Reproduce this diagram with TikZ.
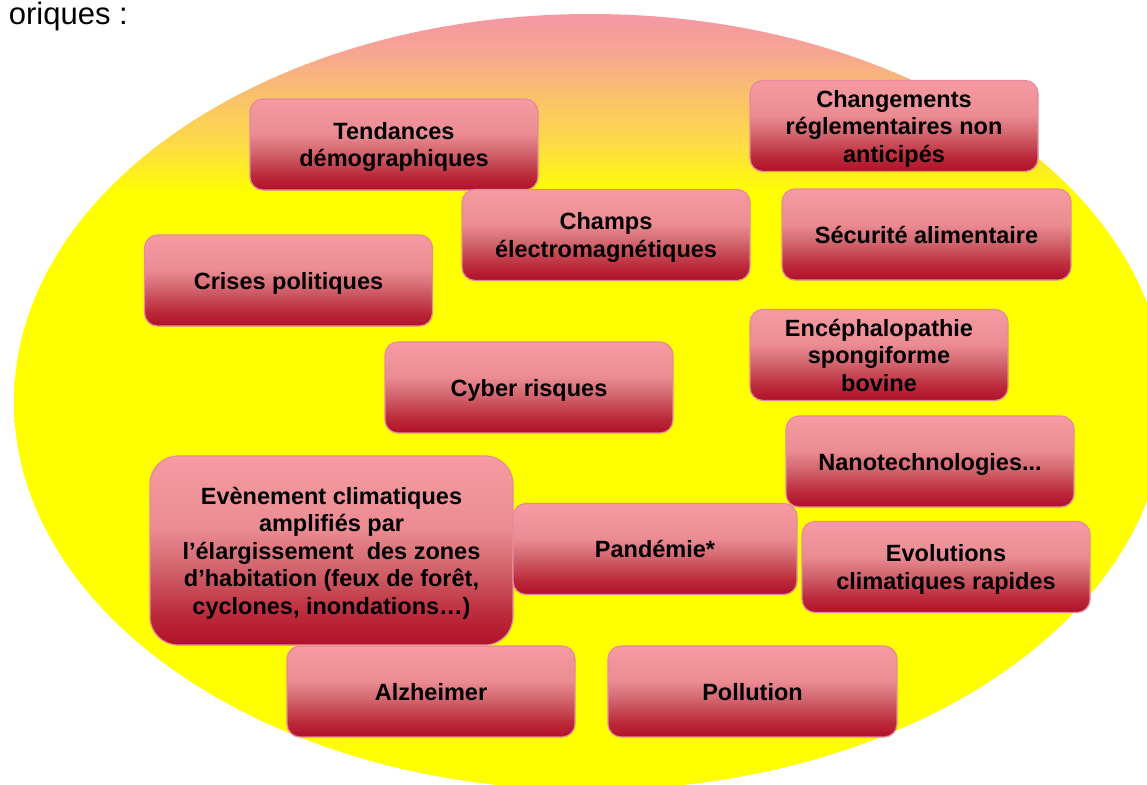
\documentclass[tikz,border=0pt]{standalone}
\usepackage{fontspec}
\setmainfont{Liberation Sans}

\definecolor{ovalyellow}{HTML}{FFFF00}
\definecolor{ovalgold}{HTML}{FDDC45}
\definecolor{ovalamber}{HTML}{FBC862}
\definecolor{ovalpeach}{HTML}{F9BA75}
\definecolor{ovalsalmon}{HTML}{F7A592}
\definecolor{ovalpink}{HTML}{F59AA0}
\definecolor{boxdark}{HTML}{B0102A}
\definecolor{boxcrimson}{HTML}{BC2A3A}
\definecolor{boxrose}{HTML}{D0626B}
\definecolor{boxsalmon}{HTML}{EB8C93}
\definecolor{boxpink}{HTML}{F59BA1}
\definecolor{boxedge}{HTML}{E88A9C}

\pgfdeclareverticalshading{ovalshade}{100bp}{color(0bp)=(ovalyellow); color(63.5bp)=(ovalyellow);
  color(66.5bp)=(ovalgold); color(69bp)=(ovalamber); color(70.5bp)=(ovalpeach);
  color(72.5bp)=(ovalsalmon); color(74.5bp)=(ovalpink); color(100bp)=(ovalpink)}
\pgfdeclareverticalshading{boxshade}{100bp}{color(0bp)=(boxdark); color(25bp)=(boxdark);
  color(33bp)=(boxcrimson); color(45bp)=(boxrose); color(56bp)=(boxsalmon);
  color(75bp)=(boxpink); color(100bp)=(boxpink)}

% text of a box, set a little below the centre of the box
\newcommand{\lowtext}[1]{\raisebox{-3pt}[\height][\depth]{\begin{tabular}{@{}c@{}}#1\end{tabular}}}

\begin{document}
\begin{tikzpicture}[x=1pt, y=-1pt,
  risk/.style={draw=boxedge, line width=1.2pt, rounded corners=13pt, shading=boxshade,
    minimum width=288, minimum height=91, inner sep=0pt,
    font=\fontsize{23.5}{27.5}\selectfont\bfseries},
  bigrisk/.style={risk, rounded corners=28pt, minimum width=363, minimum height=189}]
  \useasboundingbox (0,0) rectangle (1147,784);

  \shade[shading=ovalshade] (590,402) ellipse [x radius=576, y radius=388];

  \node[anchor=base east, inner sep=0pt, font=\fontsize{31}{37}\selectfont] (title) at (128,24.5) {oriques :};

  \node[risk] (tend) at (394,144.5) {\lowtext{Tendances\\démographiques}};
  \node[risk] (champs) at (606,235) {\lowtext{Champs\\électromagnétiques}};
  \node[risk] (crises) at (288.5,280.5) {\lowtext{Crises politiques}};
  \node[risk] (regle) at (894,126) {\lowtext{Changements\\réglementaires non\\anticipés}};
  \node[risk, minimum width=289] (secu) at (926.5,234.5) {\lowtext{Sécurité alimentaire}};
  \node[risk, minimum width=258] (esb) at (879,355) {\lowtext{Encéphalopathie\\spongiforme\\bovine}};
  \node[risk] (nano) at (930,461.5) {\lowtext{Nanotechnologies...}};
  \node[risk] (evol) at (946,567) {\lowtext{Evolutions\\climatiques rapides}};
  \node[risk] (cyber) at (529,387.5) {\lowtext{Cyber risques}};
  \node[bigrisk] (event) at (331.5,550.5) {\lowtext{Evènement climatiques\\amplifiés par\\l’élargissement\ \ des zones\\d’habitation (feux de forêt,\\cyclones, inondations…)}};
  \node[risk, minimum width=284] (pand) at (655,549) {\lowtext{Pandémie*}};
  \node[risk] (alz) at (431,691.5) {\lowtext{Alzheimer}};
  \node[risk, minimum width=289] (poll) at (752.5,691.5) {\lowtext{Pollution}};
\end{tikzpicture}
\end{document}
